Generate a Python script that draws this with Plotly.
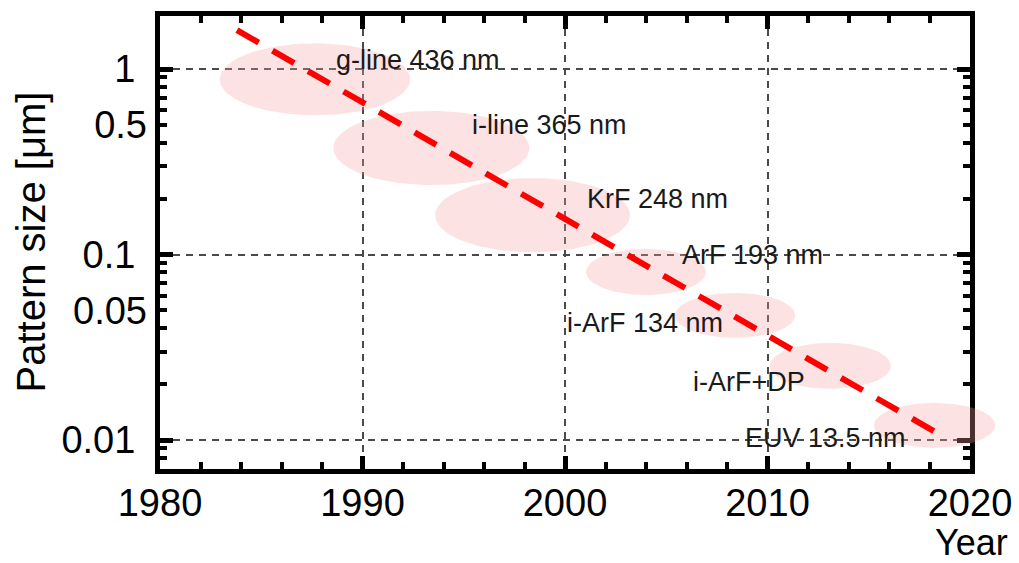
import numpy as np
import plotly.graph_objects as go

# ---------------- data ----------------
litho_labels = ["g-line 436 nm", "i-line 365 nm", "KrF 248 nm", "ArF 193 nm",
                "i-ArF 134 nm", "i-ArF+DP", "EUV 13.5 nm"]
label_year = [1988.6, 1995.3, 2001.0, 2005.7, 2000.0, 2006.2, 2008.8]
label_size = [1.12, 0.50, 0.20, 0.10, 0.043, 0.0205, 0.0103]

ellipse_year = [1987.65, 1993.4, 1998.4, 2004.0, 2008.4, 2013.1, 2018.25]
ellipse_size = [0.88, 0.375, 0.163, 0.0805, 0.047, 0.0251, 0.0120]
ellipse_halfwidth_years = [4.7, 4.84, 4.81, 2.96, 2.96, 2.99, 2.99]
ellipse_halfheight_decades = [0.194, 0.2, 0.2, 0.124, 0.121, 0.124, 0.121]

trend_year = [1983.8, 2018.7]
trend_size = [1.62, 0.0104]

x_ticks = [1980, 1990, 2000, 2010, 2020]
y_major_ticks = [0.01, 0.1, 1]
y_major_text = ["0.01", "0.1", "1"]
y_half_ticks = [0.05, 0.5]
y_half_text = ["0.05", "0.5"]

# ---------------- geometry ----------------
W, H = 1019, 563
ML, MR, MT, MB = 160, 20, 16, 94
plot_w = W - ML - MR
plot_h = H - MT - MB
main_w = 810
x_range = [1980, 2020]
y_range = [-2.1563, 0.2857]
x2_range = [1980, 1980 + 40 * plot_w / main_w]

FONT = "Liberation Sans, Arial, sans-serif"

fig = go.Figure()

# ellipses (on an invisible, wider subplot so they can overflow the frame)
theta = np.linspace(0, 2 * np.pi, 120)
for cx, cy, a, b in zip(ellipse_year, ellipse_size, ellipse_halfwidth_years, ellipse_halfheight_decades):
    ex = cx + a * np.cos(theta)
    ey = 10 ** (np.log10(cy) + b * np.sin(theta))
    fig.add_trace(go.Scatter(x=ex, y=ey, mode="lines", fill="toself",
                             fillcolor="rgba(245,160,160,0.30)",
                             line=dict(width=0), hoverinfo="skip",
                             showlegend=False, xaxis="x2", yaxis="y2"))

# trend line
fig.add_trace(go.Scatter(x=trend_year, y=trend_size, mode="lines",
                         line=dict(color="#ff0000", width=6, dash="25px,16px"),
                         showlegend=False, xaxis="x2", yaxis="y2"))

# invisible traces to activate main axes
fig.add_trace(go.Scatter(x=x_range, y=[0.1, 0.1], mode="markers",
                         marker=dict(opacity=0), showlegend=False, hoverinfo="skip"))
fig.add_trace(go.Scatter(x=x_range, y=[0.1, 0.1], mode="markers",
                         marker=dict(opacity=0), showlegend=False, hoverinfo="skip",
                         yaxis="y3"))

for txt, xx, yy in zip(litho_labels, label_year, label_size):
    fig.add_annotation(x=xx, y=np.log10(yy), xref="x", yref="y", text=txt,
                       showarrow=False, xanchor="left", yanchor="middle",
                       font=dict(family=FONT, size=27, color="#1a1a1a"))

fig.add_annotation(x=(30 - ML) / plot_w, y=0.5, xref="paper", yref="paper",
                   text="Pattern size [μm]", textangle=-90, showarrow=False,
                   xanchor="center", yanchor="middle",
                   font=dict(family=FONT, size=40, color="black"))
fig.add_annotation(x=(1010 - ML) / plot_w, y=(H - MB - 542) / plot_h,
                   xref="paper", yref="paper", text="Year", showarrow=False,
                   xanchor="right", yanchor="middle",
                   font=dict(family=FONT, size=36, color="black"))

axis_common = dict(showline=True, linewidth=5, linecolor="black", mirror="ticks",
                   ticks="inside", ticklen=13, tickwidth=5, tickcolor="black",
                   showgrid=True, gridcolor="#4a4a4a", gridwidth=1.5, griddash="7px,6px",
                   zeroline=False, automargin=False,
                   tickfont=dict(family=FONT, size=38, color="black"))

fig.update_layout(
    template="none",
    width=W, height=H, margin=dict(l=ML, r=MR, t=MT, b=MB),
    paper_bgcolor="white", plot_bgcolor="rgba(0,0,0,0)",
    showlegend=False,
    xaxis=dict(domain=[0, main_w / plot_w], range=x_range, anchor="y",
               tickmode="array", tickvals=x_ticks, ticktext=[str(v) for v in x_ticks],
               minor=dict(dtick=2, tick0=1980, ticks="inside", ticklen=7, tickwidth=4,
                          tickcolor="black", showgrid=False),
               ticklabelstandoff=-4, **axis_common),
    yaxis=dict(domain=[0, 1], type="log", range=y_range, anchor="x",
               tickmode="array", tickvals=y_major_ticks, ticktext=y_major_text,
               minor=dict(dtick="D1", ticks="inside", ticklen=7, tickwidth=4,
                          tickcolor="black", showgrid=False),
               ticklabelstandoff=12, **axis_common),
    yaxis3=dict(type="log", range=y_range, overlaying="y", anchor="x", side="left",
                tickmode="array", tickvals=y_half_ticks, ticktext=y_half_text,
                ticks="", showline=False, showgrid=False, zeroline=False,
                automargin=False, ticklabelstandoff=12,
                tickfont=dict(family=FONT, size=38, color="black")),
    xaxis2=dict(domain=[0, 1], range=x2_range, anchor="y2", visible=False),
    yaxis2=dict(domain=[0, 1], type="log", range=y_range, anchor="x2", visible=False),
)

fig.write_html("out.html")
